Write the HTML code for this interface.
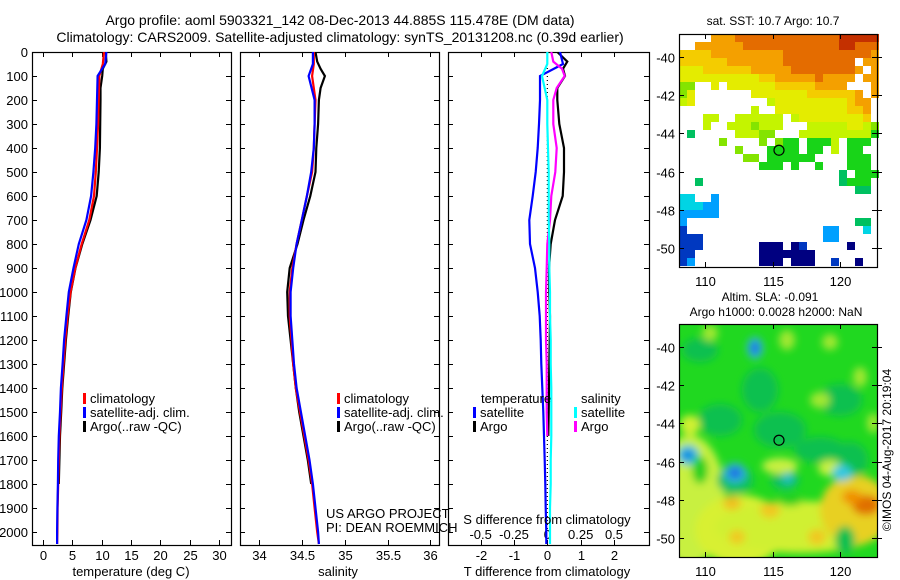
<!DOCTYPE html>
<html><head><meta charset="utf-8">
<style>
html,body{margin:0;padding:0;background:#fff;}
svg{display:block;font-family:"Liberation Sans",sans-serif;}
text{fill:#000;}
</style></head>
<body>
<svg id="fig" width="900" height="580" viewBox="0 0 900 580" xmlns="http://www.w3.org/2000/svg">
<defs>
<filter id="blur" x="-20%" y="-20%" width="140%" height="140%"><feGaussianBlur stdDeviation="4"/></filter>
<clipPath id="clip2"><rect x="679" y="324" width="198" height="233"/></clipPath>
<clipPath id="clipP1"><rect x="32" y="52" width="199" height="493"/></clipPath>
<clipPath id="clipP2"><rect x="240" y="52" width="199" height="493"/></clipPath>
<clipPath id="clipP3"><rect x="448" y="52" width="201" height="493"/></clipPath>
</defs>
<text x="340" y="25" font-size="14" text-anchor="middle">Argo profile: aoml 5903321_142 08-Dec-2013 44.885S 115.478E (DM data)</text>
<text x="340" y="42" font-size="14" text-anchor="middle">Climatology: CARS2009. Satellite-adjusted climatology: synTS_20131208.nc (0.39d earlier)</text>
<g id="panels"></g>
<g id="maps"></g>
</svg>
<script>
// ---- profile data ----
const depthClim = [0,50,100,200,300,400,500,600,700,800,900,1000,1100,1200,1300,1400,1500,1600,1700,1800,1900,2000,2050];
const tempClim = [10.4,10.2,9.6,9.5,9.4,9.2,9.0,8.7,7.9,6.6,5.5,4.7,4.2,3.8,3.5,3.2,3.0,2.8,2.7,2.6,2.5,2.45,2.4];
const tempSat  = [10.8,10.6,9.3,9.2,9.1,8.9,8.6,8.2,7.4,6.1,5.2,4.4,4.0,3.6,3.35,3.05,2.9,2.7,2.6,2.55,2.45,2.4,2.4];
const depthArgo = [0,40,70,100,150,200,300,400,500,600,700,800,900,1000,1100,1200,1300,1400,1500,1600,1700,1800];
const tempArgo = [10.7,10.8,10.2,10.1,9.8,9.8,9.75,9.7,9.5,9.15,8.1,6.7,5.55,4.75,4.3,3.9,3.6,3.3,3.1,2.9,2.8,2.7];
const salClim = [34.64,34.64,34.62,34.66,34.65,34.64,34.62,34.56,34.50,34.44,34.39,34.36,34.36,34.38,34.40,34.43,34.48,34.53,34.58,34.62,34.65,34.68,34.70];
const salSat  = [34.63,34.63,34.58,34.65,34.65,34.64,34.61,34.56,34.50,34.44,34.40,34.37,34.37,34.39,34.41,34.44,34.49,34.54,34.59,34.63,34.66,34.69,34.70];
const salArgo = [34.66,34.68,34.72,34.77,34.72,34.70,34.69,34.67,34.66,34.60,34.52,34.45,34.36,34.33,34.34,34.37,34.40,34.43,34.47,34.52,34.57,34.61];
const dTSat = [0.38,0.47,-0.22,-0.22,-0.25,-0.29,-0.35,-0.44,-0.54,-0.52,-0.37,-0.29,-0.23,-0.2,-0.18,-0.15,-0.12,-0.1,-0.08,-0.06,-0.05,-0.03,-0.03];
const dSSat = [0,0,-0.04,0,0,0.005,0.01,0.01,0.01,0.015,0.015,0.02,0.02,0.025,0.025,0.03,0.03,0.03,0.025,0.025,0.02,0.02,0.02];
const depthDA = [0,40,70,100,150,200,300,400,500,600,700,800,900,1000,1100,1200,1300,1400,1500,1600];
const dTArgo = [0.3,0.6,0.47,0.53,0.3,0.3,0.36,0.5,0.5,0.46,0.23,0.1,0.05,0.06,0.08,0.07,0.06,0.05,0.04,0.03];
const dSArgo = [0.03,0.045,0.11,0.13,0.07,0.045,0.045,0.07,0.06,0.03,0.02,0,-0.005,-0.01,-0.01,-0.01,-0.005,-0.005,-0.005,0];
const depthTicks = [0,100,200,300,400,500,600,700,800,900,1000,1100,1200,1300,1400,1500,1600,1700,1800,1900,2000];
const tTicks = [0,5,10,15,20,25,30];
const sTicks = [34,34.5,35,35.5,36];
const dtTicks = [-2,-1,0,1,2];
const dsTicks = [-0.5,-0.25,0,0.25,0.5];
const dsTickLabels = ['-0.5','-0.25','0','0.25','0.5'];

const NS='http://www.w3.org/2000/svg';
function mk(tag, attrs, parent){const e=document.createElementNS(NS,tag);for(const k in attrs)e.setAttribute(k,attrs[k]);parent.appendChild(e);return e;}
const P=document.getElementById('panels');
const Y0=52, Y1=545, DMAX=2054;
const yD = d => Y0 + d/DMAX*(Y1-Y0);
const panels = [
 {x0:32,x1:231,lo:-1.87,hi:32.04,clip:'clipP1',name:'temperature-panel'},
 {x0:240,x1:439,lo:33.78,hi:36.1,clip:'clipP2',name:'salinity-panel'},
 {x0:448,x1:649,lo:-2.98,hi:3.05,clip:'clipP3',name:'difference-panel'}
];
function xf(p){return v => p.x0 + (v-p.lo)/(p.hi-p.lo)*(p.x1-p.x0);}
function frame(p){
  const g=mk('g',{},P);
  
  
  const r=mk('rect',{x:p.x0+0.5,y:Y0+0.5,width:p.x1-p.x0,height:Y1-Y0,fill:'none',stroke:'#000','stroke-width':1.2},g);
  
  
  depthTicks.forEach(d=>{const y=Math.round(yD(d))+0.5;
    mk('line',{x1:p.x0,x2:p.x0+5,y1:y,y2:y,stroke:'#000'},g);
    mk('line',{x1:p.x1-5,x2:p.x1,y1:y,y2:y,stroke:'#000'},g);});
  return g;
}
function line(g,xs,ds,fx,col,name,clip){
  const pts=xs.map((v,i)=>fx(v).toFixed(1)+','+yD(ds[i]).toFixed(1)).join(' ');
  const l=mk('polyline',{points:pts,fill:'none',stroke:col,'stroke-width':2.2,'clip-path':'url(#'+clip+')'},g);
  
  
}
function txt(g,x,y,s,anchor,size,name){
  const t=mk('text',{x:x,y:y,'font-size':size||13,'text-anchor':anchor||'start'},g);t.textContent=s;
  
  
  return t;
}
function legend(g,x,y,col,label,name){
  const b=mk('rect',{x:x,y:y-10,width:3,height:11,fill:col},g);
  
  
  txt(g,x+7,y,label,'start',13,name);
}
depthTicks.forEach(d=>txt(P,28,yD(d)+5,String(d),'end',13,'y-tick-label'));
{const p=panels[0],g=frame(p),fx=xf(p);
 tTicks.forEach(v=>{const x=Math.round(fx(v))+0.5;mk('line',{x1:x,x2:x,y1:Y0,y2:Y0+5,stroke:'#000'},g);mk('line',{x1:x,x2:x,y1:Y1-5,y2:Y1,stroke:'#000'},g);txt(g,x,560,String(v),'middle',13,'x-tick-label');});
 txt(g,131,576,'temperature (deg C)','middle',13,'x-axis-title-temperature');
 line(g,tempArgo,depthArgo,fx,'#000','argo-temperature-line',p.clip);
 line(g,tempClim,depthClim,fx,'#f00','climatology-temperature-line',p.clip);
 line(g,tempSat,depthClim,fx,'#00f','satellite-temperature-line',p.clip);
 legend(g,83,403,'#f00','climatology','legend-climatology');
 legend(g,83,417,'#00f','satellite-adj. clim.','legend-satellite');
 legend(g,83,431,'#000','Argo(..raw -QC)','legend-argo');}
{const p=panels[1],g=frame(p),fx=xf(p);
 sTicks.forEach(v=>{const x=Math.round(fx(v))+0.5;mk('line',{x1:x,x2:x,y1:Y0,y2:Y0+5,stroke:'#000'},g);mk('line',{x1:x,x2:x,y1:Y1-5,y2:Y1,stroke:'#000'},g);txt(g,x,560,String(v),'middle',13,'x-tick-label');});
 txt(g,338,576,'salinity','middle',13,'x-axis-title-salinity');
 line(g,salArgo,depthArgo,fx,'#000','argo-salinity-line',p.clip);
 line(g,salClim,depthClim,fx,'#f00','climatology-salinity-line',p.clip);
 line(g,salSat,depthClim,fx,'#00f','satellite-salinity-line',p.clip);
 legend(g,337,403,'#f00','climatology','legend-climatology');
 legend(g,337,417,'#00f','satellite-adj. clim.','legend-satellite');
 legend(g,337,431,'#000','Argo(..raw -QC)','legend-argo');
 txt(g,326,518,'US ARGO PROJECT','start',13,'project-credit');
 txt(g,326,532,'PI: DEAN ROEMMICH','start',13,'pi-credit');}
{const p=panels[2],g=frame(p),fx=xf(p),fs=v=>fx(v*4);
 dtTicks.forEach(v=>{const x=Math.round(fx(v))+0.5;mk('line',{x1:x,x2:x,y1:Y0,y2:Y0+5,stroke:'#000'},g);mk('line',{x1:x,x2:x,y1:Y1-5,y2:Y1,stroke:'#000'},g);txt(g,x,560,String(v),'middle',13,'x-tick-label-tdiff');});
 dsTicks.forEach((v,i)=>txt(g,fs(v),539,dsTickLabels[i],'middle',13,'x-tick-label-sdiff'));
 const z=mk('line',{x1:fx(0),x2:fx(0),y1:yD(0),y2:yD(2000),stroke:'#000','stroke-dasharray':'1,3','stroke-width':1.2},g);
 
 
 line(g,dTArgo,depthDA,fx,'#000','argo-tdiff-line',p.clip);
 line(g,dTSat,depthClim,fx,'#00f','satellite-tdiff-line',p.clip);
 line(g,dSArgo,depthDA,fs,'#f0f','argo-sdiff-line',p.clip);
 line(g,dSSat,depthClim,fs,'#0ff','satellite-sdiff-line',p.clip);
 txt(g,481,403,'temperature','start',13,'legend-temperature-title');
 legend(g,473,417,'#00f','satellite','legend-tdiff-satellite');
 legend(g,473,431,'#000','Argo','legend-tdiff-argo');
 txt(g,581,403,'salinity','start',13,'legend-salinity-title');
 legend(g,574,417,'#0ff','satellite','legend-sdiff-satellite');
 legend(g,574,431,'#f0f','Argo','legend-sdiff-argo');
 txt(g,547,524,'S difference from climatology','middle',13,'x-axis-title-sdiff');
 txt(g,547,576,'T difference from climatology','middle',13,'x-axis-title-tdiff');}

// ---- maps ----
const sstRows = [
"....oooOOOOOOOOOOOOORRRRR",
"..ooooooOOOOOOOOOOOORROOO",
"yyyyoooooooooOOOOOOOOOOOo",
"yyyyyyoooooooOOOOOOOOO.oo",
"YYYyyyyyyoooooOOOOOOOOo.o",
"YYYYYYYYYYyyoooooOoooo.oo",
"gg..Y.YYYYYYyyyyyoooo...o",
"gY.......YYYYYYYyyyyyyo.o",
"lY.........lYYYYYYYYYyoo.",
".........l..YYYYYYYYYyyo.",
"...ll..llllll.lYYYYYYYYy.",
"...l..lllglll...lllllYYlg",
".E.....lllgg...lllllllllG",
".....g....g.gGG.GGGl.GGG.",
".......g...GGGG.GG.l.GG..",
"........gg.GGGGGG....GGG.",
"..........GGG.G..G...GGG.",
"....................E.GGG",
"..E.................EGGG.",
"......................EE.",
"cc..b....................",
"cccbb....................",
"bbbbb....................",
"b.....................EE.",
"B.................bb...c.",
"BBB...............bb.....",
"BBB.......NNN.NB.....N...",
"BB........NNNNNNN........",
"Bb........NNN.NNN..B..N.."];
const sstColors = {R:'#c43000',O:'#e46c00',o:'#f4a000',y:'#f4cc00',Y:'#e4ec00',l:'#c4f400',g:'#84e400',G:'#18d418',E:'#00c060',c:'#00d4e4',b:'#00a0ff',B:'#0038c0',N:'#000080'};
const lonTicks=[110,115,120];
const latTicks=[-40,-42,-44,-46,-48,-50];
const argoLon=115.478, argoLat=-44.885;
const M=document.getElementById('maps');
const lonLo=108.07, lonHi=122.74, latTop=-38.8, latBot=-51.0;
function mapAxes(y0,name){
  const g=mk('g',{},M);
  
  
  const fx=v=>679+(v-lonLo)/(lonHi-lonLo)*198, fy=v=>y0+(latTop-v)/(latTop-latBot)*233;
  return {g,fx,fy};
}
{const a=mapAxes(34,'sst-map');const g=a.g;
 sstRows.forEach((row,r)=>{for(let c=0;c<25;c++){const ch=row[c]||'.';if(ch==='.')continue;
   const cell=mk('rect',{x:679+c*8,y:34+r*8,width:8,height:8,fill:sstColors[ch]},g);
   
   }});
}
{const g=mk('g',{'clip-path':'url(#clip2)'},M);
 
 
 mk('rect',{x:679,y:324,width:198,height:233,fill:'#20d820'},g);
 const b=mk('g',{filter:'url(#blur)'},g);
 const blobs=[
  [690,500,35,65,'#c8f040'],[740,530,45,35,'#d8f030'],[800,527,85,26,'#d0f030'],[855,510,35,35,'#e8d020'],
  [720,420,22,16,'#10c050'],[780,430,26,18,'#10c050'],[820,450,26,13,'#10c050'],[760,390,18,22,'#10c050'],[850,460,18,18,'#10c050'],
  [700,350,18,12,'#10c050'],[840,400,22,16,'#10c050'],[735,480,18,14,'#10c060'],[785,480,14,10,'#10c060'],
  [710,333,8,8,'#a0e830'],[787,340,8,10,'#a0e830'],[830,342,8,8,'#a0e830'],[860,377,7,10,'#a0e830'],[820,400,10,8,'#a0e830'],[873,423,6,10,'#a0e830'],
  [690,425,10,10,'#d0f030'],[780,466,18,8,'#c8f040'],[830,468,12,8,'#c8f040'],
  [755,348,8,11,'#30b8e0'],[755,348,4,6,'#1060e0'],[688,455,11,10,'#30c0e0'],[688,455,6,5,'#1080e0'],
  [735,473,11,10,'#30b0e0'],[735,473,6,5,'#1060e0'],[842,473,10,8,'#30c8e0'],[788,478,6,6,'#20c0c0'],
  [866,505,14,10,'#e07000'],[852,497,10,7,'#f09000'],[732,503,9,7,'#f0c020'],[770,510,10,8,'#f0c820'],[817,537,9,8,'#f0c820'],[737,537,8,7,'#f0c820'],
  [790,500,12,6,'#20d020'],[845,540,10,14,'#10c050'],[700,470,8,14,'#20d020']];
 blobs.forEach(o=>{const e=mk('ellipse',{cx:o[0],cy:o[1],rx:o[2],ry:o[3],fill:o[4]},b);
   
   });
}
[[34,'sst-map-axes'],[324,'sla-map-axes']].forEach(([y0,name])=>{
 const a=mapAxes(y0,name);const g=a.g;
 mk('rect',{x:679.5,y:y0+0.5,width:198,height:233,fill:'none',stroke:'#000','stroke-width':1.2},g);
 lonTicks.forEach(v=>{const x=Math.round(a.fx(v))+0.5;mk('line',{x1:x,x2:x,y1:y0,y2:y0+5,stroke:'#000'},g);mk('line',{x1:x,x2:x,y1:y0+233-5,y2:y0+233,stroke:'#000'},g);txt(g,x,y0+252,String(v),'middle',13,'lon-tick-label');});
 latTicks.forEach(v=>{const y=Math.round(a.fy(v))+0.5;mk('line',{x1:679,x2:684,y1:y,y2:y,stroke:'#000'},g);mk('line',{x1:872,x2:882,y1:y,y2:y,stroke:'#000'},g);txt(g,675,y+5,String(v),'end',13,'lat-tick-label');});
 const c=mk('circle',{cx:a.fx(argoLon),cy:a.fy(argoLat),r:5,fill:'none',stroke:'#000','stroke-width':1.2},g);
 
 
});
txt(M,773,25,'sat. SST: 10.7 Argo: 10.7','middle',12,'sst-map-title');
txt(M,770,301,'Altim. SLA: -0.091','middle',12,'sla-map-title');
txt(M,776,316,'Argo h1000: 0.0028 h2000: NaN','middle',12,'sla-map-subtitle');
{const t=txt(M,0,0,'©IMOS 04-Aug-2017 20:19:04','middle',12,'timestamp');t.setAttribute('transform','translate(891,450) rotate(-90)');}
</script>
</body></html>
